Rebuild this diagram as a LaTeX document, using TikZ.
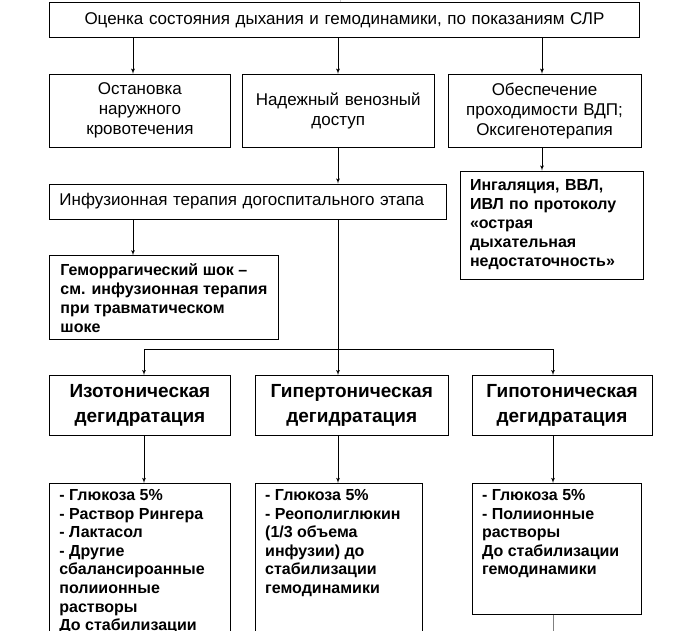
\documentclass[tikz,border=0pt]{standalone}
\usepackage{fontspec}
\setmainfont{Liberation Sans}
\usetikzlibrary{arrows}
\usetikzlibrary{positioning}

% text block pinned to the top of a box of fixed height
\newcommand{\toplist}[3]{\parbox[c][#1][t]{#2}{\raggedright #3}}

\begin{document}
\begin{tikzpicture}[>=latex',line width=0.8pt,
    cbox/.style={draw,rectangle,inner xsep=10pt,inner ysep=0pt,align=center,
                 font=\fontsize{17}{20}\selectfont},
    lbox/.style={draw,rectangle,inner xsep=10pt,inner ysep=0pt,align=left,
                 font=\fontsize{17}{20}\selectfont},
    bbox/.style={lbox,font=\fontsize{16}{19}\selectfont\bfseries},
    hbox/.style={cbox,font=\fontsize{19}{24.5}\selectfont\bfseries},
    lstbox/.style={draw,rectangle,inner xsep=10pt,inner ysep=6pt,
                 font=\fontsize{16}{18.6}\selectfont\bfseries}]

  \useasboundingbox (0,0) rectangle (696pt,-630pt);

  % columns of the connectors
  \coordinate (c1) at (133pt,0);
  \coordinate (c2) at (338pt,0);
  \coordinate (c3) at (542pt,0);
  \coordinate (c4) at (144pt,0);
  \coordinate (c5) at (553pt,0);

  \node[cbox,text width=570pt,minimum height=35pt,anchor=north west] (top) at (49pt,-2pt)
    {Оценка состояния дыхания и гемодинамики, по показаниям СЛР};

  \node[cbox,text width=161pt,minimum height=73pt,below=36pt of top.south west,anchor=north west] (ost)
    {Остановка\\наружного\\кровотечения};
  \node[cbox,text width=172pt,minimum height=73pt,right=11pt of ost] (nad)
    {Надежный венозный\\доступ};
  \node[cbox,text width=173pt,minimum height=73pt,right=13pt of nad] (obe)
    {Обеспечение\\проходимости ВДП;\\Оксигенотерапия};

  \node[lbox,text width=377pt,minimum height=35pt,below=36pt of ost.south west,anchor=north west] (inf)
    {Инфузионная терапия догоспитального этапа};
  \node[bbox,text width=163pt,minimum height=108pt,below=23pt of obe.south west,anchor=north west,xshift=12pt] (ing)
    {Ингаляция, ВВЛ,\\ИВЛ по протоколу\\«острая\\дыхательная\\недостаточность»};
  \node[bbox,minimum width=229pt,minimum height=84pt,inner xsep=0pt,below=36pt of inf.south west,anchor=north west] (gem)
    {Геморрагический шок –\\см. инфузионная терапия\\при травматическом\\шоке};

  \node[hbox,text width=161pt,minimum height=60pt,below=35pt of gem.south west,anchor=north west] (iso)
    {Изотоническая\\дегидратация};
  \node[hbox,text width=173pt,minimum height=60pt,right=24pt of iso] (hyper)
    {Гипертоническая\\дегидратация};
  \node[hbox,text width=160pt,minimum height=60pt,right=23pt of hyper] (hypo)
    {Гипотоническая\\дегидратация};

  \node[lstbox,below=47pt of iso.south west,anchor=north west] (isolst)
    {\toplist{200pt}{161pt}{- Глюкоза 5\%\\- Раствор Рингера\\- Лактасол\\- Другие\\сбалансироанные\\полиионные\\растворы\\До стабилизации}};
  \node[lstbox,below=47pt of hyper.south west,anchor=north west] (hyperlst)
    {\toplist{200pt}{147pt}{- Глюкоза 5\%\\- Реополиглюкин\\(1/3 объема\\инфузии) до\\стабилизации\\гемодинамики}};
  \node[lstbox,below=47pt of hypo.south west,anchor=north west] (hypolst)
    {\toplist{119pt}{149pt}{- Глюкоза 5\%\\- Полиионные\\растворы\\До стабилизации\\гемодинамики}};

  \coordinate (split) at (338pt,-349pt);
  \coordinate (cut) at (340pt,0);
  \coordinate (bot) at (553pt,-640pt);

  \draw[gray!40] (top.north -| cut) -- (cut);
  \draw[->] (top.south -| c1) -- (ost.north -| c1);
  \draw[->] (top.south -| c2) -- (nad.north -| c2);
  \draw[->] (top.south -| c3) -- (obe.north -| c3);
  \draw[->] (nad.south -| c2) -- (inf.north -| c2);
  \draw[->] (obe.south -| c3) -- (ing.north -| c3);
  \draw[->] (inf.south -| c1) -- (gem.north -| c1);
  \draw (inf.south -| c2) -- (split);
  \draw[->] (split) -| (iso.north -| c4);
  \draw[->] (split) -- (hyper.north -| c2);
  \draw[->] (split) -| (hypo.north -| c5);
  \draw[->] (iso.south -| c4) -- (isolst.north -| c4);
  \draw[->] (hyper.south -| c2) -- (hyperlst.north -| c2);
  \draw[->] (hypo.south -| c5) -- (hypolst.north -| c5);
  \draw[gray] (hypolst.south -| c5) -- (bot);
\end{tikzpicture}
\end{document}
